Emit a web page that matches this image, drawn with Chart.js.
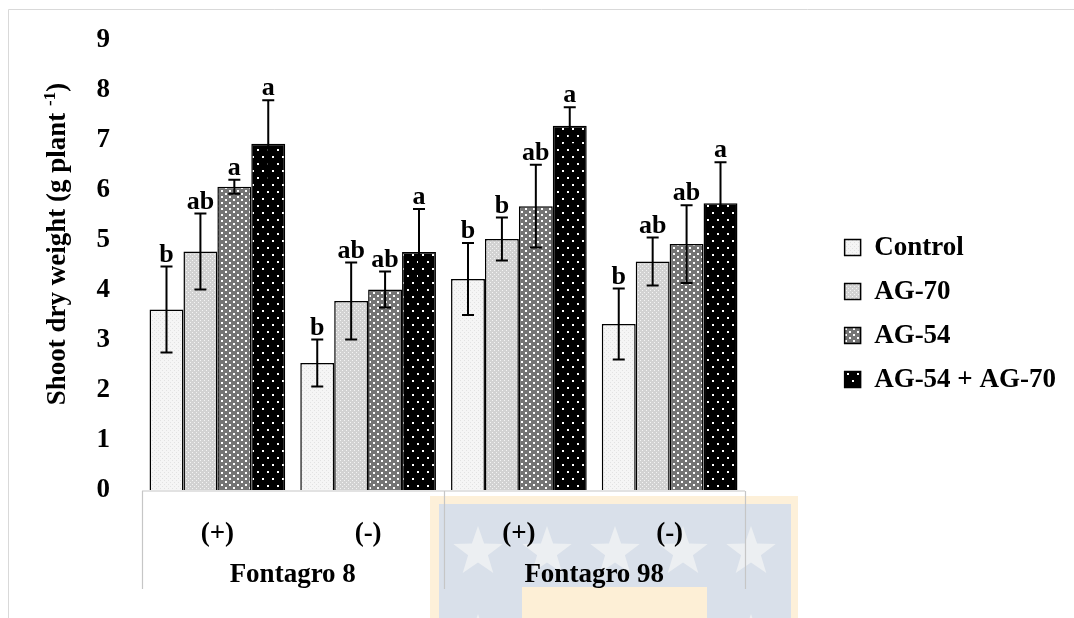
<!DOCTYPE html>
<html>
<head>
<meta charset="utf-8">
<script src="https://cdn.jsdelivr.net/npm/chart.js@4.4.1/dist/chart.umd.min.js"></script>
<style>
  html, body { margin: 0; padding: 0; background: #fff; }
  #wrap { width: 1074px; height: 618px; }
</style>
</head>
<body>
<div id="wrap"><canvas id="chart" width="1074" height="618"></canvas></div>
<script>
// values (g plant-1)
const categories = ["(+)", "(-)", "(+)", "(-)"];
const groups = ["Fontagro 8", "Fontagro 98"];
const seriesNames = ["Control", "AG-70", "AG-54", "AG-54 + AG-70"];
const control = [3.61, 2.54, 4.22, 3.32];
const ag70 = [4.77, 3.78, 5.02, 4.57];
const ag54 = [6.07, 4.01, 5.68, 4.92];
const combo = [6.93, 4.76, 7.29, 5.74];
const controlErr = [0.86, 0.47, 0.72, 0.71];
const ag70Err = [0.76, 0.77, 0.43, 0.48];
const ag54Err = [0.14, 0.36, 0.83, 0.78];
const comboErr = [0.87, 0.86, 0.37, 0.82];
const controlLetters = ["b", "b", "b", "b"];
const ag70Letters = ["ab", "ab", "b", "ab"];
const ag54Letters = ["a", "ab", "ab", "ab"];
const comboLetters = ["a", "a", "a", "a"];
const yMin = 0, yMax = 9, yStep = 1;

const SERIF = '"Liberation Serif", "Times New Roman", serif';
const canvas = document.getElementById("chart");
const ctx = canvas.getContext("2d");

function makePattern(w, h, bg, dots, dotColor, size) {
  const c = document.createElement("canvas");
  c.width = w; c.height = h;
  const g = c.getContext("2d");
  g.fillStyle = bg;
  g.fillRect(0, 0, w, h);
  g.fillStyle = dotColor;
  dots.forEach(([x, y]) => g.fillRect(x, y, size, size));
  return ctx.createPattern(c, "repeat");
}

const fills = [
  makePattern(4, 4, "#f5f5f5", [[0, 0], [2, 2]], "#e2e2e2", 1),
  makePattern(4, 4, "#d2d2d2", [[0, 0], [2, 2]], "#f4f4f4", 1),
  makePattern(8, 6, "#747474", [[1, 1], [5, 4]], "#ffffff", 2),
  makePattern(10, 14, "#000000", [[2, 2], [7, 9]], "#ffffff", 2)
];

const errs = [controlErr, ag70Err, ag54Err, comboErr];
const letters = [controlLetters, ag70Letters, ag54Letters, comboLetters];

const datasets = [control, ag70, ag54, combo].map((vals, i) => ({
  label: seriesNames[i],
  data: vals,
  backgroundColor: fills[i],
  borderColor: "#000",
  borderWidth: 1.5,
  categoryPercentage: 0.9,
  barPercentage: 1
}));

function star(g, cx, cy, r) {
  g.beginPath();
  for (let k = 0; k < 10; k++) {
    const rr = k % 2 ? r * 0.4 : r;
    const a = -Math.PI / 2 + k * Math.PI / 5;
    g.lineTo(cx + rr * Math.cos(a), cy + rr * Math.sin(a));
  }
  g.closePath();
  g.fill();
}

const RIGHT_PAD = 8;

const decor = {
  id: "decor",
  beforeDraw(chart) {
    const g = chart.ctx;
    g.save();
    g.fillStyle = "#fff";
    g.fillRect(0, 0, chart.width, chart.height);
    // faint watermark behind the lower axis
    g.fillStyle = "#fdf0d9";
    g.fillRect(430, 496, 368, 130);
    g.fillStyle = "#d9e0ea";
    g.fillRect(439, 504, 352, 120);
    g.fillStyle = "#eceff2";
    [478, 547, 615, 683, 751].forEach(x => star(g, x, 552, 26));
    [478, 751].forEach(x => star(g, x, 640, 26));
    g.fillStyle = "#fdefd6";
    g.fillRect(522, 587, 185, 40);
    // outer frame
    g.strokeStyle = "#d9d9d9";
    g.lineWidth = 1;
    g.beginPath();
    g.moveTo(8.5, chart.height);
    g.lineTo(8.5, 9.5);
    g.lineTo(chart.width, 9.5);
    g.stroke();
    g.restore();
  },
  afterDraw(chart) {
    const g = chart.ctx;
    const x = chart.scales.x;
    const area = chart.chartArea;
    const half = (x.getPixelForValue(1) - x.getPixelForValue(0)) / 2;
    g.save();
    // category table lines
    g.strokeStyle = "#c6c6c6";
    g.lineWidth = 1.2;
    g.beginPath();
    g.moveTo(area.left, area.bottom + 1);
    g.lineTo(area.right, area.bottom + 1);
    [0, 2, 4].forEach(i => {
      const px = Math.round(x.getPixelForValue(i) - half) + 0.5;
      g.moveTo(px, area.bottom + 1);
      g.lineTo(px, 589);
    });
    g.stroke();
    // group labels
    g.fillStyle = "#000";
    g.font = "bold 27px " + SERIF;
    g.textAlign = "center";
    g.textBaseline = "alphabetic";
    groups.forEach((name, i) => {
      const cx = (x.getPixelForValue(i * 2) + x.getPixelForValue(i * 2 + 1)) / 2;
      g.fillText(name, cx, 582);
    });
    // y axis title with superscript
    const main = "Shoot dry weight (g plant ";
    const sup = "-1";
    const close = ")";
    g.font = "bold 27px " + SERIF;
    const w1 = g.measureText(main).width;
    const w3 = g.measureText(close).width;
    g.font = "bold 17px " + SERIF;
    const w2 = g.measureText(sup).width;
    const total = w1 + w2 + w3;
    g.translate(65, 244);
    g.rotate(-Math.PI / 2);
    g.textAlign = "left";
    let cx = -total / 2;
    g.font = "bold 27px " + SERIF;
    g.fillText(main, cx, 0);
    cx += w1;
    g.font = "bold 17px " + SERIF;
    g.fillText(sup, cx, -10);
    cx += w2;
    g.font = "bold 27px " + SERIF;
    g.fillText(close, cx, 0);
    g.restore();
  },
  afterDatasetsDraw(chart) {
    const g = chart.ctx;
    const y = chart.scales.y;
    g.save();
    g.strokeStyle = "#000";
    g.fillStyle = "#000";
    g.lineWidth = 2;
    g.font = "bold 26px " + SERIF;
    g.textAlign = "center";
    g.textBaseline = "alphabetic";
    chart.data.datasets.forEach((ds, di) => {
      const meta = chart.getDatasetMeta(di);
      meta.data.forEach((bar, i) => {
        const v = ds.data[i], e = errs[di][i];
        const top = y.getPixelForValue(v + e);
        const bot = y.getPixelForValue(v - e);
        g.beginPath();
        g.moveTo(bar.x, top);
        g.lineTo(bar.x, bot);
        g.moveTo(bar.x - 6, top);
        g.lineTo(bar.x + 6, top);
        g.moveTo(bar.x - 6, bot);
        g.lineTo(bar.x + 6, bot);
        g.stroke();
        g.fillText(letters[di][i], bar.x, top - 5);
      });
    });
    g.restore();
  }
};

const tickFont = { family: SERIF, size: 27, weight: "bold" };

new Chart(ctx, {
  type: "bar",
  data: { labels: categories, datasets },
  options: {
    responsive: false,
    animation: false,
    devicePixelRatio: 1,
    layout: { padding: { right: RIGHT_PAD } },
    plugins: {
      title: { display: true, text: "", fullSize: false, font: { size: 10 }, padding: { top: 0, bottom: 28 } },
      legend: {
        position: "right",
        maxWidth: 400,
        labels: { color: "#000", font: tickFont, boxWidth: 16, boxHeight: 16, padding: 17 },
        title: { display: true, text: "", font: { size: 6 }, padding: 1 }
      },
      tooltip: { enabled: false }
    },
    scales: {
      x: {
        grid: { display: false },
        border: { display: false },
        ticks: { color: "#000", font: tickFont, padding: 20, maxRotation: 0, autoSkip: false },
        afterFit: s => { s.height = 128; }
      },
      y: {
        min: yMin, max: yMax,
        grid: { display: false },
        border: { display: false },
        ticks: { stepSize: yStep, color: "#000", font: tickFont, padding: 24 },
        afterFit: s => { s.width = 142; }
      },
      gap: {
        position: "right",
        grid: { display: false },
        border: { display: false },
        ticks: { display: false },
        afterFit: s => { s.width = s.chart.width - RIGHT_PAD - s.chart.legend.width - 745; }
      }
    }
  },
  plugins: [decor]
});
</script>
</body>
</html>
